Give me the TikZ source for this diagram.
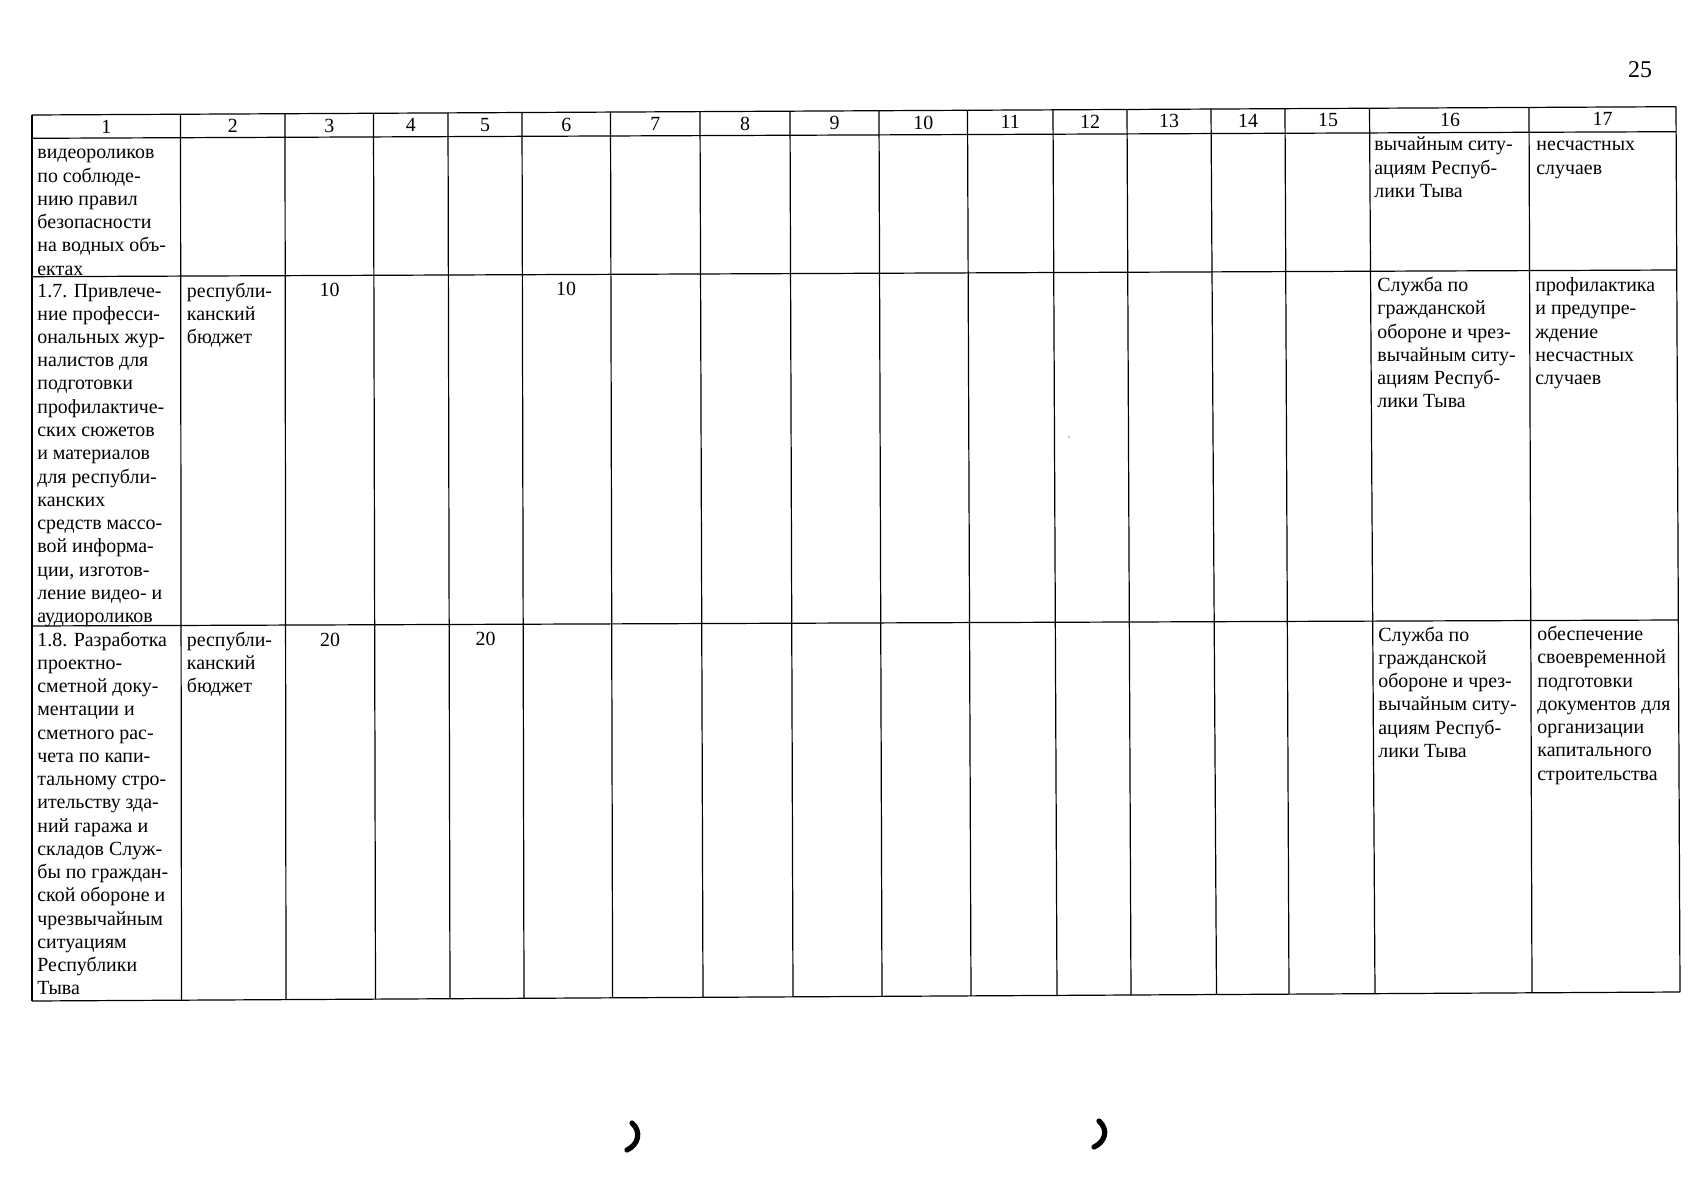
\documentclass[tikz,border=0pt]{standalone}
\usepackage{fontspec}
\setmainfont{Liberation Serif}[FakeStretch=0.99]
\newcommand\fs{\fontsize{10}{11.6}\selectfont}
\newcommand\celltext[4]{\foreach \cl [count=\i from 0] in {#4} {\node[txt] (#3-\i) at (#1,{#2+23.25*\i}) {\cl};}}
\begin{document}
\begin{tikzpicture}[x=0.0175cm,y=-0.0175cm,
  grid/.style={line width=0.6pt, black},
  txt/.style={anchor=base west, inner sep=0pt, font=\fs},
  num/.style={anchor=base, inner sep=0pt, font=\fs},
  handmark/.style={line width=2.6pt, line cap=round}]
\useasboundingbox (0,0) rectangle (1697,1200);
% horizontal rules
\draw[grid] (32,115) -- (1676,106.7);
\draw[grid] (32,138.3) -- (1676.2,131.7);
\draw[grid] (32,276.7) -- (1676.8,270);
\draw[grid] (32,626) -- (1678.3,620);
\draw[grid] (32,1001) -- (1680,992);
% vertical rules
\foreach \xt/\xb in {32/32, 180.5/181.5, 285/286, 373.5/375.5, 448/450, 522/524,
  610.5/612.6, 700/703, 790/793, 879/882, 967.5/971, 1053/1057, 1127/1131,
  1211/1216.5, 1285/1289, 1369.5/1375, 1529/1532, 1676/1680} {
  \pgfmathsetmacro\yt{115-8.3*(\xt-32)/1644}
  \pgfmathsetmacro\yb{1001-9*(\xb-32)/1648}
  \draw[grid] (\xt,\yt) -- (\xb,\yb);
}
% header numbers
\foreach \c/\n in {106.25/1, 232.75/2, 329.25/3, 410.75/4, 485/5, 566.25/6, 655.25/7,
  745/8, 834.5/9, 923.25/10, 1010.25/11, 1090/12, 1169/13, 1248/14, 1328/15,
  1450/16, 1602.5/17} {
  \node[num] (h\n) at (\c,{133.5-0.0054*(\c-106)}) {\n};
}
% page number
\node[anchor=base, inner sep=0pt, font=\fontsize{12}{14}\selectfont] (page) at (1640,78) {25};
% row 1 (continuation)
\celltext{37}{159}{ra}{видеороликов, по соблюде-, нию правил, безопасности, на водных объ-, ектах}
\celltext{1374}{151}{rp}{вычайным ситу-, ациям Респуб-, лики Тыва}
\celltext{1536}{151}{rq}{несчастных, случаев}
% row 2 (1.7)
\celltext{37}{297}{sa}{1.7. Привлече-, ние професси-, ональных жур-, налистов для, подготовки, профилактиче-, ских сюжетов, и материалов, для республи-, канских, средств массо-, вой информа-, {ции, изготов-}, ление видео- и, аудиороликов}
\celltext{186.5}{297}{sb}{республи-, канский, бюджет}
\node[num] (s3) at (329.5,296.7) {10};
\node[num] (s6) at (566,295.5) {10};
\celltext{1377}{291.7}{sp}{Служба по, гражданской, обороне и чрез-, вычайным ситу-, ациям Респуб-, лики Тыва}
\celltext{1535}{291.7}{sq}{профилактика, и предупре-, ждение, несчастных, случаев}
% row 3 (1.8)
\celltext{37}{646}{ta}{1.8. Разработка, проектно-, сметной доку-, ментации и, сметного рас-, чета по капи-, тальному стро-, ительству зда-, ний гаража и, складов Служ-, бы по граждан-, ской обороне и, чрезвычайным, ситуациям, Республики, Тыва}
\celltext{186.5}{646}{tb}{республи-, канский, бюджет}
\node[num] (t3) at (330,646) {20};
\node[num] (t5) at (485.5,645.8) {20};
\celltext{1378}{641}{tp}{Служба по, гражданской, обороне и чрез-, вычайным ситу-, ациям Респуб-, лики Тыва}
\celltext{1537}{640.5}{tq}{обеспечение, своевременной, подготовки, документов для, организации, капитального, строительства}
% speck
\fill[gray] (1069,437) circle (0.9);
% hand marks at the foot
\draw[handmark] (632,1123) .. controls (642,1132) and (638,1145) .. (627,1150);
\draw[handmark] (1099,1121) .. controls (1109,1130) and (1105,1142) .. (1094,1147);
\end{tikzpicture}
\end{document}
